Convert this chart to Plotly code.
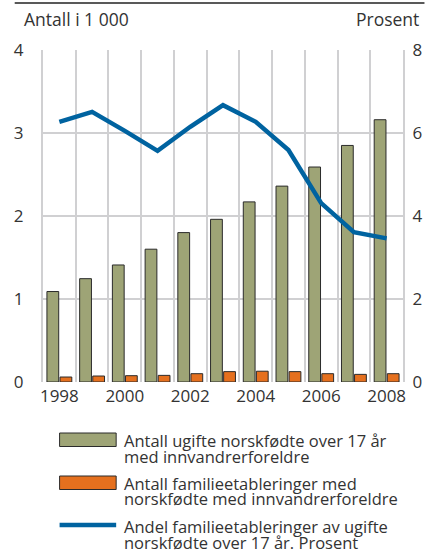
import plotly.graph_objects as go

years = [1998, 1999, 2000, 2001, 2002, 2003, 2004, 2005, 2006, 2007, 2008]
ugifte = [1.09, 1.245, 1.41, 1.60, 1.80, 1.96, 2.17, 2.36, 2.59, 2.85, 3.16]
etableringer = [0.06, 0.072, 0.076, 0.08, 0.10, 0.125, 0.13, 0.125, 0.10, 0.092, 0.10]
andel = [6.27, 6.51, 6.05, 5.57, 6.15, 6.67, 6.27, 5.59, 4.31, 3.61, 3.46]

legend_labels = [
    ["Antall ugifte norskfødte over 17 år", "med innvandrerforeldre"],
    ["Antall familieetableringer med", "norskfødte med innvandrerforeldre"],
    ["Andel familieetableringer av ugifte", "norskfødte over 17 år. Prosent"],
]

GREEN = "#9EA476"
ORANGE = "#E5701E"
BLUE = "#0063A0"
GRID = "#D0D0D2"
TXT = "#333333"
FONT = "Open Sans"

W, H = 434, 551
L, R, T, B = 43, 412, 50, 382

fig = go.Figure()
fig.add_trace(go.Bar(x=years, y=ugifte, marker=dict(color=GREEN, line=dict(color="#2b2b2b", width=1)),
                     name=" ".join(legend_labels[0]), showlegend=False))
fig.add_trace(go.Bar(x=years, y=etableringer, marker=dict(color=ORANGE, line=dict(color="#2b2b2b", width=1)),
                     name=" ".join(legend_labels[1]), showlegend=False))
fig.add_trace(go.Scatter(x=years, y=andel, yaxis="y2", mode="lines",
                         line=dict(color=BLUE, width=4.5), name=" ".join(legend_labels[2]), showlegend=False))

def px(x):
    return (x - L) / (R - L)

def py(y):
    return (B - y) / (B - T)

shapes = []
annotations = []
# top rule
shapes.append(dict(type="line", xref="paper", yref="paper", x0=px(14), x1=px(434), y0=py(3), y1=py(3),
                   line=dict(color="#222", width=1.5)))
# legend
leg_text_x = px(124)
shapes.append(dict(type="rect", xref="paper", yref="paper", x0=px(60), x1=px(118), y0=py(433), y1=py(446.5),
                   fillcolor=GREEN, line=dict(color="#2b2b2b", width=1)))
shapes.append(dict(type="rect", xref="paper", yref="paper", x0=px(60), x1=px(118), y0=py(476), y1=py(489.5),
                   fillcolor=ORANGE, line=dict(color="#2b2b2b", width=1)))
shapes.append(dict(type="line", xref="paper", yref="paper", x0=px(60), x1=px(118), y0=py(525), y1=py(525),
                   line=dict(color=BLUE, width=4.5)))
line_ys = [(440.5, 456.5), (483, 498.5), (526, 542)]
for lab, ys in zip(legend_labels, line_ys):
    for t, yy in zip(lab, ys):
        annotations.append(dict(text=t, xref="paper", yref="paper", x=leg_text_x, y=py(yy),
                                xanchor="left", yanchor="middle", showarrow=False,
                                font=dict(size=16.5, color=TXT, family=FONT)))
# axis titles
annotations.append(dict(text="Antall i 1 000", xref="paper", yref="paper", x=px(21), y=py(19),
                        xanchor="left", yanchor="middle", showarrow=False, font=dict(size=17.5, color=TXT, family=FONT)))
annotations.append(dict(text="Prosent", xref="paper", yref="paper", x=px(430), y=py(19),
                        xanchor="right", yanchor="middle", showarrow=False, font=dict(size=17.5, color=TXT, family=FONT)))

fig.update_layout(
    width=W, height=H,
    margin=dict(l=L, r=W - R, t=T, b=H - B, pad=0),
    paper_bgcolor="white", plot_bgcolor="white",
    barmode="group", bargap=0.2, bargroupgap=0.1,
    font=dict(family=FONT, size=17, color=TXT),
    showlegend=False,
    shapes=shapes, annotations=annotations,
    xaxis=dict(range=[1997.5, 2008.5], tickvals=[1998, 2000, 2002, 2004, 2006, 2008],
               showgrid=False, zeroline=False, showline=False, ticks="", ticklabelstandoff=2,
               minor=dict(tick0=1997.5, dtick=1, showgrid=True, gridcolor=GRID, gridwidth=2, ticks=""),
               tickfont=dict(size=17, color=TXT, family=FONT)),
    yaxis=dict(range=[0, 4], dtick=1, showgrid=True, gridcolor=GRID, gridwidth=2, zeroline=False,
               showline=True, linecolor=GRID, linewidth=2, ticks="", ticklabelstandoff=14,
               tickfont=dict(size=17, color=TXT, family=FONT)),
    yaxis2=dict(range=[0, 8], dtick=2, overlaying="y", side="right", showgrid=False, zeroline=False,
                showline=True, linecolor=GRID, linewidth=2, ticks="", ticklabelstandoff=4,
                tickfont=dict(size=17, color=TXT, family=FONT)),
)

fig.write_html("out.html", config={"displayModeBar": False},
               post_script="document.body.style.margin='0';document.body.style.overflow='hidden';")
